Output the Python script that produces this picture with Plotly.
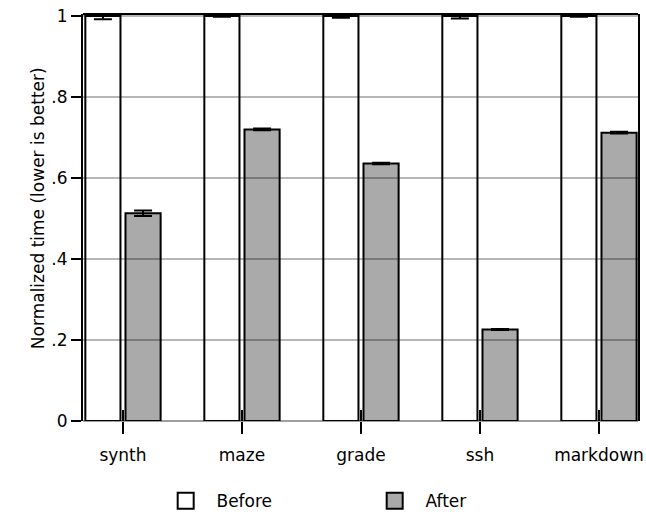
import plotly.graph_objects as go

categories = ["synth", "maze", "grade", "ssh", "markdown"]
before_vals = [1.0, 1.0, 1.0, 1.0, 1.0]
before_err = [0.008, 0.002, 0.004, 0.006, 0.002]
after_vals = [0.513, 0.72, 0.636, 0.226, 0.712]
after_err = [0.007, 0.002, 0.002, 0.001, 0.002]
y_tickvals = [0, 0.2, 0.4, 0.6, 0.8, 1.0]
y_ticktext = ["0", ".2", ".4", ".6", ".8", "1"]
series_names = ["Before", "After"]
series_colors = ["#ffffff", "#aaaaaa"]
y_title = "Normalized time (lower is better)"

FONT = "DejaVu Sans"

fig = go.Figure()
for name, vals, errs, col in [
    (series_names[0], before_vals, before_err, series_colors[0]),
    (series_names[1], after_vals, after_err, series_colors[1]),
]:
    fig.add_trace(go.Bar(
        x=categories, y=vals, name=name, showlegend=False,
        marker=dict(color=col, line=dict(color="black", width=2)),
        error_y=dict(type="data", array=errs, visible=True,
                     color="black", thickness=2, width=9),
    ))
    # legend key
    fig.add_trace(go.Scatter(
        x=[None], y=[None], mode="markers", name="\u00a0\u00a0" + name,
        marker=dict(symbol="square", size=16, color=col,
                    line=dict(color="black", width=2)),
    ))

# grid lines drawn over the bars
for v in y_tickvals[1:]:
    fig.add_shape(type="line", xref="paper", x0=0, x1=1, yref="y", y0=v, y1=v,
                  line=dict(color="rgba(0,0,0,0.38)", width=1.5), layer="above")
# inner part of the category tick marks
for c in categories:
    fig.add_shape(type="line", xref="x", x0=c, x1=c, yref="y", ysizemode="pixel",
                  yanchor=0, y0=0, y1=11, line=dict(color="black", width=2), layer="above")
# top frame line
fig.add_shape(type="line", xref="paper", x0=0, x1=1, yref="paper", y0=1, y1=1,
              line=dict(color="black", width=2), layer="above")

# y-axis title
fig.add_annotation(text=y_title, textangle=-90, showarrow=False,
                   xref="paper", x=0, xanchor="center", xshift=-45,
                   yref="paper", y=0.523, yanchor="middle",
                   font=dict(family=FONT, size=17, color="black"))

fig.update_layout(
    width=646, height=514,
    margin=dict(l=83, r=8, t=14, b=93, autoexpand=False),
    paper_bgcolor="white", plot_bgcolor="white",
    barmode="group", bargap=0.325, bargroupgap=0.125,
    font=dict(family=FONT, size=17, color="black"),
    showlegend=True,
    legend=dict(orientation="h", xref="container", yref="container",
                x=0.58, xanchor="center", y=0.025, yanchor="middle",
                font=dict(family=FONT, size=17), entrywidth=164,
                itemsizing="trace"),
    xaxis=dict(type="category", categoryorder="array", categoryarray=categories,
               range=[-0.336, 4.328], showgrid=False, zeroline=False, showline=False,
               automargin=False,
               ticks="outside", ticklen=12, tickwidth=2, tickcolor="black",
               ticklabelstandoff=7, tickfont=dict(family=FONT, size=17)),
    yaxis=dict(range=[0, 1.005], tickvals=y_tickvals, ticktext=y_ticktext,
               automargin=False,
               showgrid=False, zeroline=True, zerolinecolor="rgba(0,0,0,0.38)",
               zerolinewidth=1.5, showline=True, linecolor="black", linewidth=2,
               mirror=True, ticks="outside", ticklen=10, tickwidth=2,
               tickcolor="black", tickfont=dict(family=FONT, size=17)),
)

fig.write_html("out.html")
